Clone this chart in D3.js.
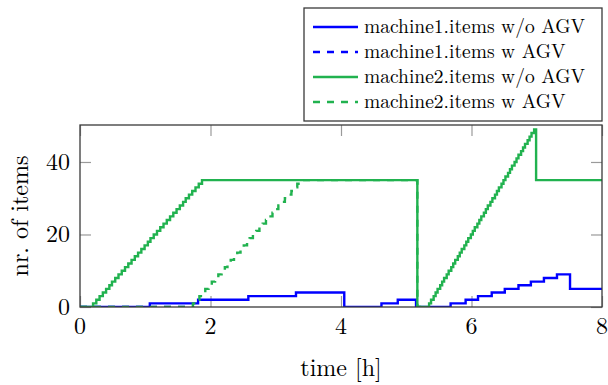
<!DOCTYPE html>
<html>
<head>
<meta charset="utf-8">
<script src="https://cdn.jsdelivr.net/npm/d3@7"></script>
<style>
  body { margin: 0; background: #fff; }
</style>
</head>
<body>
<div id="chart"></div>
<script>
// step data: time [h] where the count changes, and the new count
var m1NoAgvT = [0, 1.07, 1.81, 2.58, 3.31, 4.05, 4.62, 4.87, 5.15, 5.68, 5.91, 6.10, 6.31, 6.51, 6.72, 6.91, 7.11, 7.31, 7.51, 8];
var m1NoAgvV = [0, 1, 2, 3, 4, 0, 1, 2, 0, 1, 2, 3, 4, 5, 6, 7, 8, 9, 5, 5];

var m1AgvT = [0, 1.75];
var m1AgvV = [0, 0];

var m2NoAgvT = [0,
  0.20, 0.25, 0.30, 0.35, 0.40, 0.45, 0.49, 0.54, 0.59, 0.64, 0.69, 0.74, 0.79, 0.84, 0.89, 0.94, 0.99, 1.04,
  1.08, 1.13, 1.18, 1.23, 1.28, 1.33, 1.38, 1.43, 1.48, 1.53, 1.58, 1.62, 1.67, 1.72, 1.77, 1.82, 1.87,
  5.17,
  5.35, 5.38, 5.42, 5.45, 5.48, 5.52, 5.55, 5.58, 5.62, 5.65, 5.69, 5.72, 5.75, 5.79, 5.82, 5.85, 5.89,
  5.92, 5.95, 5.99, 6.02, 6.05, 6.09, 6.12, 6.15, 6.19, 6.22, 6.25, 6.29, 6.32, 6.36, 6.39, 6.42, 6.46,
  6.49, 6.52, 6.56, 6.59, 6.62, 6.66, 6.69, 6.72, 6.76, 6.79, 6.82, 6.86, 6.89, 6.92, 6.96,
  6.99, 8];
var m2NoAgvV = [0,
  1, 2, 3, 4, 5, 6, 7, 8, 9, 10, 11, 12, 13, 14, 15, 16, 17, 18,
  19, 20, 21, 22, 23, 24, 25, 26, 27, 28, 29, 30, 31, 32, 33, 34, 35,
  0,
  1, 2, 3, 4, 5, 6, 7, 8, 9, 10, 11, 12, 13, 14, 15, 16, 17,
  18, 19, 20, 21, 22, 23, 24, 25, 26, 27, 28, 29, 30, 31, 32, 33, 34,
  35, 36, 37, 38, 39, 40, 41, 42, 43, 44, 45, 46, 47, 48, 49,
  35, 35];

var m2AgvT = [0,
  1.73, 1.78, 1.83, 1.88, 1.92, 1.97, 2.02, 2.07, 2.12, 2.17, 2.22, 2.26, 2.31, 2.36, 2.41, 2.46, 2.51, 2.56,
  2.60, 2.65, 2.70, 2.75, 2.80, 2.85, 2.90, 2.95, 2.99, 3.04, 3.09, 3.14, 3.19, 3.24, 3.29, 3.33, 3.38,
  5.17, 5.35];
var m2AgvV = [0,
  1, 2, 3, 4, 5, 6, 7, 8, 9, 10, 11, 12, 13, 14, 15, 16, 17, 18,
  19, 20, 21, 22, 23, 24, 25, 26, 27, 28, 29, 30, 31, 32, 33, 34, 35,
  0, 0];

var seriesNames = ["machine1.items w/o AGV", "machine1.items w AGV", "machine2.items w/o AGV", "machine2.items w AGV"];
var xTicks = [0, 2, 4, 6, 8];
var yTicks = [0, 20, 40];

var blue = "#0000ff";
var green = "#21b24f";
var serif = "'Latin Modern Roman', 'Liberation Serif', serif";

var svgWidth = 608;
var svgHeight = 385;
var margin = { top: 125, right: 6, bottom: 78, left: 80 };
var width = svgWidth - margin.left - margin.right;
var height = svgHeight - margin.top - margin.bottom;

var svg = d3.select("#chart").append("svg")
  .attr("width", svgWidth)
  .attr("height", svgHeight)
  .attr("font-family", serif);

var chartGroup = svg.append("g")
  .attr("transform", `translate(${margin.left}, ${margin.top})`);

var x = d3.scaleLinear().domain([0, 8]).range([0, width]);
var y = d3.scaleLinear().domain([0, 50.2]).range([height, 0]);

// clip so lines stay inside the axis box
chartGroup.append("clipPath").attr("id", "clip")
  .append("rect").attr("width", width).attr("height", height);

// ticks (inward, on all four sides)
var tickLen = 11;
var tickColor = "#9a9a9a";
function styleTicks(g) {
  g.select(".domain").remove();
  g.selectAll("line").attr("stroke", tickColor).attr("stroke-width", 1.2);
}
chartGroup.append("g")
  .attr("transform", `translate(0, ${height})`)
  .call(d3.axisBottom(x).tickValues(xTicks).tickSize(-tickLen).tickFormat(""))
  .call(styleTicks);
chartGroup.append("g")
  .call(d3.axisTop(x).tickValues(xTicks).tickSize(-tickLen).tickFormat(""))
  .call(styleTicks);
chartGroup.append("g")
  .call(d3.axisLeft(y).tickValues(yTicks).tickSize(-tickLen).tickFormat(""))
  .call(styleTicks);
chartGroup.append("g")
  .attr("transform", `translate(${width}, 0)`)
  .call(d3.axisRight(y).tickValues(yTicks).tickSize(-tickLen).tickFormat(""))
  .call(styleTicks);

// tick labels
chartGroup.selectAll(".xlab").data(xTicks).enter().append("text")
  .attr("x", d => x(d))
  .attr("y", height + 27)
  .attr("text-anchor", "middle")
  .attr("font-family", serif)
  .attr("font-size", "24px")
  .text(d => d);
chartGroup.selectAll(".ylab").data(yTicks).enter().append("text")
  .attr("x", -10)
  .attr("y", d => y(d) + 8)
  .attr("text-anchor", "end")
  .attr("font-family", serif)
  .attr("font-size", "24px")
  .text(d => d);

// series
var line = d3.line()
  .x(d => x(d[0]))
  .y(d => y(d[1]))
  .curve(d3.curveStepAfter);

var series = [
  { t: m1NoAgvT, v: m1NoAgvV, color: blue, dash: null },
  { t: m1AgvT, v: m1AgvV, color: blue, dash: "7,7" },
  { t: m2NoAgvT, v: m2NoAgvV, color: green, dash: null },
  { t: m2AgvT, v: m2AgvV, color: green, dash: "7,7" }
];

var plot = chartGroup.append("g").attr("clip-path", "url(#clip)");
series.forEach(function(s) {
  plot.append("path")
    .datum(d3.zip(s.t, s.v))
    .attr("fill", "none")
    .attr("stroke", s.color)
    .attr("stroke-width", 2.4)
    .attr("stroke-dasharray", s.dash)
    .attr("d", line);
});

// axis box
chartGroup.append("rect")
  .attr("width", width)
  .attr("height", height)
  .attr("fill", "none")
  .attr("stroke", "#3a3a3a")
  .attr("stroke-width", 1.3);

// axis labels
chartGroup.append("text")
  .attr("x", width / 2)
  .attr("y", height + 69)
  .attr("text-anchor", "middle")
  .attr("font-family", serif)
  .attr("font-size", "24px")
  .text("time [h]");

chartGroup.append("text")
  .attr("transform", `translate(${28 - margin.left}, ${height / 2}) rotate(-90)`)
  .attr("text-anchor", "middle")
  .attr("font-family", serif)
  .attr("font-size", "24px")
  .text("nr. of items");

// legend
var legend = svg.append("g").attr("transform", "translate(304, 8)");
legend.append("rect")
  .attr("width", 298)
  .attr("height", 113)
  .attr("fill", "#fff")
  .attr("stroke", "#3a3a3a")
  .attr("stroke-width", 1.3);

var legendItems = legend.selectAll(".item")
  .data(series)
  .enter().append("g")
  .attr("transform", (d, i) => `translate(0, ${19 + i * 25})`);
legendItems.append("line")
  .attr("x1", 9).attr("x2", 54)
  .attr("stroke", d => d.color)
  .attr("stroke-width", 2.4)
  .attr("stroke-dasharray", d => d.dash);
legendItems.append("text")
  .attr("x", 60)
  .attr("y", 6)
  .attr("font-family", serif)
  .attr("font-size", "19.5px")
  .text((d, i) => seriesNames[i]);
</script>
</body>
</html>
